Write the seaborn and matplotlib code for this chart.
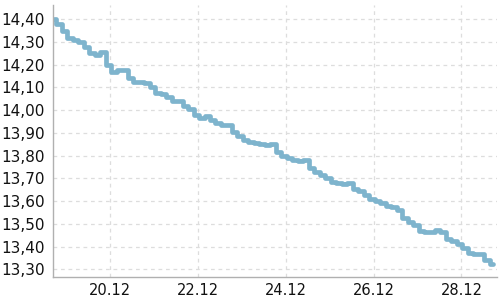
import numpy as np
import pandas as pd
import matplotlib
matplotlib.use("Agg")
import matplotlib.pyplot as plt
import matplotlib.dates as mdates
from matplotlib.ticker import FuncFormatter, MultipleLocator
import seaborn as sns

start = "2023-12-18 17:00"
step_hours = 3
prices = [
    14.40, 14.38, 14.35, 14.32, 14.31, 14.30, 14.28, 14.25, 14.245, 14.255,
    14.20, 14.17, 14.175, 14.175, 14.14, 14.125, 14.125, 14.12, 14.10, 14.075,
    14.07, 14.06, 14.04, 14.04, 14.02, 14.005, 13.98, 13.965, 13.975, 13.955,
    13.945, 13.935, 13.935, 13.905, 13.885, 13.87, 13.86, 13.855, 13.85, 13.845,
    13.85, 13.815, 13.80, 13.79, 13.78, 13.775, 13.78, 13.745, 13.73, 13.715,
    13.70, 13.685, 13.68, 13.675, 13.68, 13.655, 13.645, 13.625, 13.61, 13.60,
    13.59, 13.58, 13.575, 13.56, 13.525, 13.51, 13.495, 13.47, 13.465, 13.465,
    13.475, 13.465, 13.435, 13.425, 13.41, 13.395, 13.37, 13.365, 13.365, 13.34,
    13.325,
]
dates = pd.date_range(start, periods=len(prices), freq=f"{step_hours}h")
df = pd.DataFrame({"date": dates, "price": prices})

sns.set_style("white")
fig = plt.figure(figsize=(5, 3), dpi=100)
ax = fig.add_axes([0.106, 0.0767, 0.888, 0.9066])

sns.lineplot(data=df, x="date", y="price", ax=ax, color="#7eb4cd",
             linewidth=3.4, drawstyle="steps-mid")

ax.set_xlim(pd.Timestamp("2023-12-18 16:40"), pd.Timestamp("2023-12-28 19:25"))
ax.set_ylim(13.266, 14.463)

ax.xaxis.set_major_locator(mdates.DayLocator(bymonthday=[20, 22, 24, 26, 28]))
ax.xaxis.set_major_formatter(mdates.DateFormatter("%d.%m"))
ax.yaxis.set_major_locator(MultipleLocator(0.1))
ax.yaxis.set_major_formatter(FuncFormatter(lambda v, p: f"{v:.2f}".replace(".", ",")))

ax.set_xlabel("")
ax.set_ylabel("")
ax.grid(True, color="#dddddd", linestyle=(0, (3, 3)), linewidth=0.9)
ax.set_axisbelow(True)

for s in ["top", "right"]:
    ax.spines[s].set_visible(False)
for s in ["left", "bottom"]:
    ax.spines[s].set_color("#b0b0b0")
    ax.spines[s].set_linewidth(1.0)

ax.tick_params(axis="x", length=3, color="#b0b0b0", labelsize=10.5, pad=1.5, labelcolor="#111111")
ax.tick_params(axis="y", length=0, labelsize=11, pad=6, labelcolor="#111111")

fig.savefig("out.png", dpi=100)
